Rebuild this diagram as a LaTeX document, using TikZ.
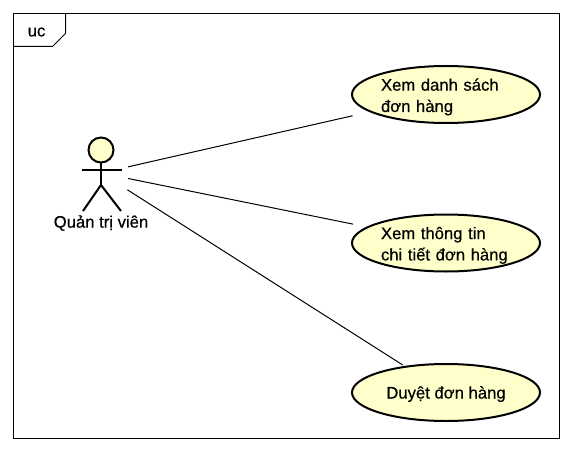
\documentclass[tikz,border=0pt]{standalone}
\usepackage{fontspec}
\setmainfont[FakeBold=0.5]{Liberation Sans}
\usetikzlibrary{shapes.geometric, positioning}
\definecolor{ucyellow}{RGB}{255,255,204}
\tikzset{
  usecase/.style={ellipse, draw, line width=1.5pt, fill=ucyellow, minimum width=141pt, minimum height=42.75pt, inner sep=0pt, outer sep=0pt},
  txt/.style={font=\fontsize{12.5}{16}\selectfont, inner sep=0pt},
  uctext/.style={txt, align=left, text width=97.5pt, yshift=-1.8pt},
  uccenter/.style={txt, align=center, yshift=-1.2pt},
  stick/.style={line width=1.5pt},
  assoc/.style={line width=0.75pt}
}
\begin{document}
\begin{tikzpicture}[x=0.75pt, y=-0.75pt]
\useasboundingbox (0,0) rectangle (573,452);
% Frame and tab
\draw[line width=0.75pt] (13.5,13.5) rectangle (559.5,438.5);
\draw[line width=0.75pt] (13.5,46.5) -- (52.5,46.5) -- (65.5,33.5) -- (65.5,13.5);
\node[txt] (frametag) at (36.5,32) {uc};

% Actor
\coordinate (actor) at (101,173);
\node[circle, draw, line width=1.5pt, fill=ucyellow, minimum size=18.75pt, inner sep=0pt, outer sep=0pt] (actorhead) at (101,150) {};
\draw[stick] (actorhead.south) -- (101,185);
\draw[stick] (82,170) -- (122,170);
\draw[stick] (83,211) -- (101,185) -- (121,211);
\node[txt] (actorname) at (101,223) {Quản trị viên};

% Use cases
\node[usecase, label={[uctext]center:{Xem danh sách\\đơn hàng}}] (listuc) at (446,94.5) {};
\node[usecase, label={[uctext]center:{Xem thông tin\\chi tiết đơn hàng}}] (detailuc) at (446,243) {};
\node[usecase, label={[uccenter]center:{Duyệt đơn hàng}}] (approveuc) at (446,392.5) {};

% Associations
\draw[assoc, shorten <=20.8pt, shorten >=14pt] (actor) -- (listuc);
\draw[assoc, shorten <=20.7pt, shorten >=11.5pt] (actor) -- (detailuc);
\draw[assoc, shorten <=23.5pt, shorten >=2.7pt] (actor) -- (approveuc);
\end{tikzpicture}
\end{document}
